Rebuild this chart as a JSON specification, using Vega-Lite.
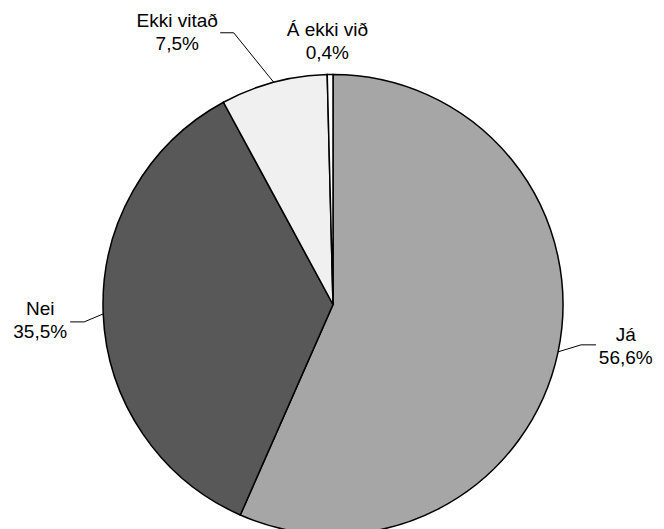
{
  "$schema": "https://vega.github.io/schema/vega-lite/v6.json",
  "width": 664,
  "height": 529,
  "autosize": {"type": "none"},
  "padding": 0,
  "background": "white",
  "view": {"stroke": null},
  "config": {"font": "Liberation Sans"},
  "data": {
    "values": [
      {"cat": "Já", "v": 56.6, "n": 1},
      {"cat": "Nei", "v": 35.5, "n": 2},
      {"cat": "Ekki vitað", "v": 7.5, "n": 3},
      {"cat": "Á ekki við", "v": 0.4, "n": 4}
    ]
  },
  "layer": [
    {
      "mark": {
        "type": "arc",
        "outerRadius": 230,
        "stroke": "black",
        "strokeWidth": 1.5,
        "x": {"expr": "width/2 + 1"},
        "y": {"expr": "height/2 + 40"}
      },
      "encoding": {
        "theta": {"field": "v", "type": "quantitative", "stack": true},
        "order": {"field": "n", "type": "quantitative"},
        "color": {
          "field": "cat",
          "type": "nominal",
          "scale": {
            "domain": ["Já", "Nei", "Ekki vitað", "Á ekki við"],
            "range": ["#a6a6a6", "#585858", "#f0f0f0", "#ffffff"]
          },
          "legend": null
        }
      }
    },
    {
      "transform": [
        {"stack": "v", "groupby": [], "sort": [{"field": "n", "order": "ascending"}], "as": ["v0", "v1"]}
      ],
      "mark": {
        "type": "point",
        "filled": false,
        "size": 4,
        "stroke": "black",
        "strokeWidth": 1,
        "opacity": 1,
        "x": {"expr": "width/2 + 1 + 230*sin(PI*(datum.v0+datum.v1)/100)"},
        "y": {"expr": "height/2 + 40 - 230*cos(PI*(datum.v0+datum.v1)/100)"}
      },
      "encoding": {
        "shape": {
          "field": "cat",
          "type": "nominal",
          "scale": {
            "domain": ["Já", "Nei", "Ekki vitað", "Á ekki við"],
            "range": ["M0,0L23,-7L38,-7", "M0,0L-19,8L-33,8", "M0,0L-40,-49.5L-53.5,-49.5", "M0,0"]
          },
          "legend": null
        }
      }
    },
    {
      "mark": {
        "type": "text",
        "radius": 290,
        "fontSize": 19,
        "lineHeight": 23,
        "align": "center",
        "baseline": "middle",
        "color": "black",
        "x": {"expr": "width/2 + 1"},
        "y": {"expr": "height/2 + 40"},
        "dx": {"expr": "datum.cat === 'Já' ? 9 : datum.cat === 'Nei' ? -3 : datum.cat === 'Ekki vitað' ? -81 : -2"},
        "dy": {"expr": "datum.cat === 'Já' ? -29 : datum.cat === 'Nei' ? -7 : datum.cat === 'Ekki vitað' ? -3 : 15"},
        "text": {"expr": "[datum.cat, replace(format(datum.v, '.1f'), '.', ',') + '%']"}
      },
      "encoding": {
        "theta": {"field": "v", "type": "quantitative", "stack": true},
        "order": {"field": "n", "type": "quantitative"}
      }
    }
  ]
}
